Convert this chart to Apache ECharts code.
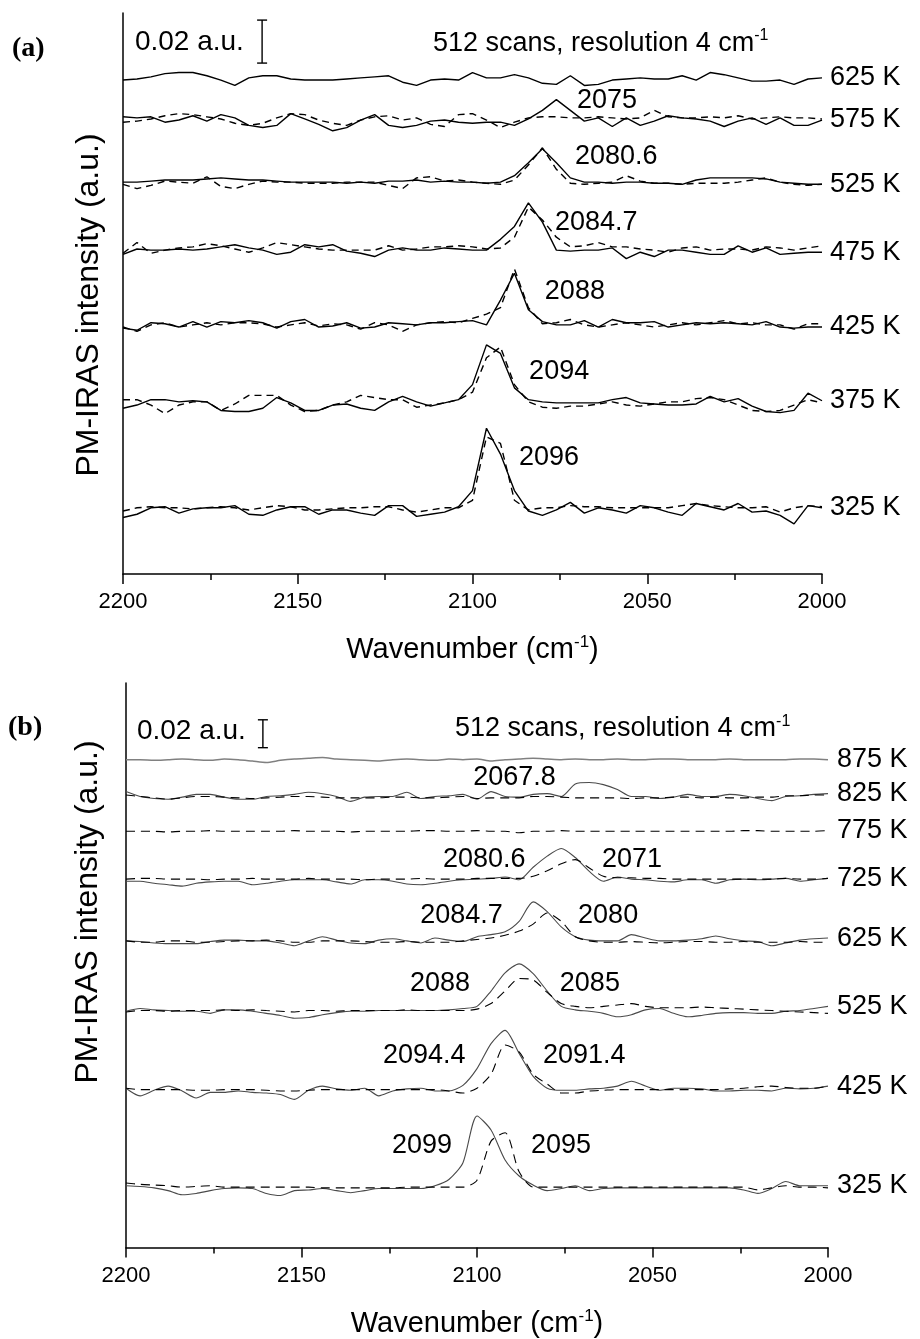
<!DOCTYPE html>
<html><head><meta charset="utf-8">
<script src="https://cdn.jsdelivr.net/npm/echarts/dist/echarts.min.js"></script>
<style>html,body{margin:0;padding:0;background:#fff}#c{width:920px;height:1339px}</style>
</head><body><div id="c"></div>
<script>
// ---------- shared x values (wavenumber, cm-1) ----------
const wavenumbers = [2200,2196,2192,2188,2184,2180,2176,2172,2168,2164,2160,2156,2152,2148,2144,2140,2136,2132,2128,2124,2120,2116,2112,2108,2104,2100,2096,2092,2088,2084,2080,2076,2072,2068,2064,2060,2056,2052,2048,2044,2040,2036,2032,2028,2024,2020,2016,2012,2008,2004,2000];
const xTicks = [2200,2150,2100,2050,2000];

// ---------- panel (a): intensities (0.001 a.u.) relative to each baseline ----------
const tempsA   = ['625 K','575 K','525 K','475 K','425 K','375 K','325 K'];
const offsetsA = [229.8, 211.2, 182.3, 150.7, 114.9, 78.6, 28.8];
const a625s = [0,0.5,1.5,3,3.5,3.5,2,0,-2.5,1, 2,2,0.5,0,0,0,0.5,1,1.5,2, -1,-2.5,0,0.5,0,3.5,1,1,2.5,1, -1.5,-2,2,-2.5,-2,0,0.5,1,0.5,0.5, 2,0,3.5,2.5,1,-0.5,-0.5,0,-2,0.5, 1];
const a575s = [1.5,1,1.5,-1,0,2,-0.5,2.5,1,-2.5, -3.5,-2.5,3,0.5,-2,-5,-3.5,0,2.5,-2.5, -3.5,-2.5,-0.5,0,-1,-1.5,-1,-1,-2.5,0.5, 4.5,9.5,4.5,-0.5,1,-3,1,-2.5,-0.5,2, 1,0.5,-0.5,-3,-0.5,1,-2,1,-2.5,-2.5, 0];
const a575d = [-1,-0.5,0.5,2,3,2.5,1.5,0.5,-1.5,-2.5, -1.5,1,3,2.5,0,-1.5,-2.5,0,1.5,2, 0,1,-2,-3,2.5,3,0,-3.5,-1,1, 1.5,1.5,1,1,1.5,1,0.5,1,4.5,1.5, 1,1,1.5,1,2,0.5,1,1.5,1,1, 0.5];
const a525s = [0,0,0.5,1,1,1,1.5,2,1.5,1, 1,0.5,0,0,0,0,-0.5,0,-0.5,0.5, 0.5,1,0,0.5,0,0,-0.5,0,3,9, 15.5,9,2,0,0,-0.5,0,0,-0.5,-0.5, -1,1,2,2,2,2,1.5,0,-0.5,-1, -1];
const a525d = [-1,-3,-1.5,0.5,0,-0.5,2.5,-2,-3,-1, 0.5,0,0,-0.5,-0.5,-0.5,0,0,0,-1.5, -3,2,2.5,0.5,1,0,-0.5,-1,1,8, 16,6,-0.5,-1,-0.5,0,3,0.5,-0.5,-0.5, -1,-0.5,-0.5,-0.5,0,1,2,0,-1,-1.5, -1];
const a475s = [-2,0.5,0,0,0.5,0,0.5,1.5,2.5,1, 0,-2,-1,2.5,1.5,2.5,-0.5,-1.5,-3,0, 1,0,0,1,0.5,0,0,5,11,22, 13,0,-0.5,0,0,1,-4,-1,-3,0, 0,-1,-2,-2,2,-1,1,-2,-1.5,-1, -1];
const a475d = [-1.5,3.5,-1.5,0,1,1.5,3,2,0.5,-1, 1,3.5,2.5,1.5,0.5,0,0,0,0,2, 0,0.5,1.5,1.5,2,1.5,0.5,1,6,20, 14,6,1.5,2,3.5,1.5,1.5,0.5,0,-1, 1,1.5,0,0.5,0.5,0,1.5,1,0,1, 2];
const a425s = [-0.5,-1.5,2,1.5,0,2.5,0,2.5,2,3, 2,-0.5,2.5,3.5,0,0.5,2,-0.5,0,2, 1.5,1,2,2,2.5,3,1,12.5,25,8, 2.5,1,1,3,0,3.5,2,2,2.5,0, 1,2,1.5,2,1.5,1,2.5,0,-0.5,0, 0];
const a425d = [0,-2,1,2,0,1,2,1,2,2, 1.5,0,1,2,0.5,1.5,1,-1,2,1, -2,1,2,2.5,2,4,6,9,27,9, 1.5,2,3.5,1,0,1,2,1,0,1, 2,1,2,3,1.5,2,1,1,-1,1.5, 1.5];
const a375s = [-1.5,0,2.5,2.5,1.5,2,1.5,-2.5,-3,-3, -1.5,3.5,1,-2.5,-2.5,0,0.5,-1.5,-2.5,1.5, 4,1.5,-0.5,1,2.5,9.5,28,24,8,2.5, 1.5,1,1,1,1,2.5,3.5,1,0.5,0, 0,0.5,4,1.5,3,-0.5,-3,-3.5,-2.5,5.5, 2];
const a375d = [2.5,2.5,0,-4,0,1.5,1.5,-2.5,0.5,4.5, 4.5,4.5,0,-3,-2.5,0,1.5,4.5,3.5,2.5, 2.5,-1,0,1,2.5,6,22,27,9.5,1.5, -1,-1.5,-0.5,-0.5,0.5,1.5,0,-0.5,0.5,1.5, 1.5,3,3.5,2.5,0,-2.5,-3,-2.5,0,2.5, 1];
const a325s = [-2.5,-1,2,2.5,-0.5,1.5,2,2,3,-1, -1.5,1,2.5,2.5,-1,1,1,-0.5,-1.5,3, 3,-2,-1,0,2.5,10,39,27,10,0.5, -1.5,1,4.5,-0.5,2,1,-0.5,3,2,0, -1.5,4,2.5,1,4,0,0.5,-1.5,-5.5,3, 2];
const a325d = [0.5,2,2.5,2,2,1.5,2,2.5,2,1, 2,3,2.5,1,1,1.5,2,2,2.5,2.5, 1,0,1,2,2,5.5,35,32,5.5,1, 2,2,3,2.5,2.5,2,2,2,2,2, 3,4,3,2.5,2,2,2.5,0,2,3, 2.5];

// ---------- panel (b) ----------
const tempsB   = ['875 K','825 K','775 K','725 K','625 K','525 K','425 K','325 K'];
const offsetsB = [350, 323.6, 298.6, 264.3, 220, 170, 114.3, 44.3];
const b875s = [0,0,-0.5,0,0.5,0,-0.5,0.5,0,-1, -2,-0.5,0.5,1,1.5,0.5,0,-0.5,-1,0, 0.5,0,-0.5,0.5,0,0.5,-1,0,0.5,1, 0.5,0,0.5,0,0,0.5,0,0,0.5,0.5, 0,0,0,0.5,0,0,0,0,0.5,0.5, 0];
const b825s = [3.5,0,-1.5,-2,-0.5,1.5,1.5,-0.5,-2,-2, 0,0.5,1.5,3,2,0,-3.5,-0.5,0,0, 3,-1.5,0,0.5,1.5,-2,3.5,0,-0.5,1.5, 2,0,9,10,8.5,5,0,0,-1.5,-0.5, 1.5,0,0,1.5,0.5,-1.5,-3,0,0.5,1.5, 2];
const b825d = [1,0,-1,-2,-1,0,0,-0.5,-1,-1.5, -1,-0.5,0,0,-0.5,-1,-1,-1,-1,-0.5, -0.5,-1,-1,-0.5,0,-1.5,-1,-1,-1,0, 0,-0.5,-1,-1,-1,-1,-1.5,-1,-1,-0.5, -0.5,-1,-0.5,-1,-1,-0.5,-0.5,0.5,0.5,1, 1];
const b775d = [0,0,0,-0.5,0,0,0.5,0,0,0, 0,0,0.5,0,0,0,-0.5,0,0,0, 0,0.5,0.5,0,0,0.5,0,0,-1,0, 0,0.5,0,0,0,0,0,0,0,0, 0,0,0,0,0.5,0.5,0,0,0,0, 0.5];
const b725s = [-1.5,-1.5,-3,-4,-5,-3,-2,-1.5,-1.5,-4, -3,-1.5,-0.5,-0.5,-0.5,-2,-3.5,-0.5,-0.5,-1.5, -3.5,-4,-3,-1.5,-0.5,0,0.5,1.5,-0.5,8.5, 16.5,22,15.5,5.5,-1.5,1.5,0,-0.5,-1.5,-2, -0.5,-0.5,-3,-0.5,0,-0.5,0,0.5,-1.5,-0.5, 0.5];
const b725d = [0,0.5,0.5,0,0,0,-0.5,0,0,0.5, 0,0,0,0.5,0,0,0,-0.5,0,0, 0,0.5,0,0,0,0.5,0.5,0.5,0.5,2, 6,11,14,8,2,1,1,0.5,0.5,0, 0,0,0,0,0,0,0,0.5,0,0, 0.5];
const b625s = [0,-0.5,-1.5,-2,-2,-2,-0.5,0.5,0.5,0, 0,-1.5,-3.5,0,3,0.5,-1.5,-2,0.5,1.5, 0,-1.5,2,0.5,-0.5,3,4.5,6.5,14,28, 21,10,3,0.5,0,0,4.5,2,0,0, 0.5,1.5,3.5,1.5,0,-0.5,-3.5,-1.5,0.5,1.5, 2];
const b625d = [0,-1,-1,0,0,-1,-1,-0.5,0,0, 0.5,0,-1,-1,0,0,0,-0.5,-1,-1, -0.5,-1,-1,-1,0,1,2,4,7,12, 20,14,3,0,-1,-1,-0.5,-1,-1.5,-1, -0.5,-0.5,-1,-1,-0.5,-1,-1,-1,-0.5,-1, -1];
const b525s = [-0.5,1.5,0.5,0,-0.5,-0.5,-2,0.5,0.5,-0.5, -2,-3.5,-5.5,-5,-3,-1.5,-0.5,-0.5,0,0, 0,0,0,0.5,1.5,3,14,27,33.5,26.5, 14,3,0.5,-0.5,-2,-4.5,-3,0.5,1.5,-2, -4.5,-3.5,-2,-1.5,-1.5,-2,-2,-0.5,0,1.5, 3];
const b525d = [-1,0,0,-0.5,0,0,0,0.5,0,0.5, 0,-0.5,-1,0,0,-0.5,0,0,0,0, 0.5,0,0,0,0,1,5,14,23,22, 13,5,3,2,3,4,5,3,2,2, 2,2.5,2,1.5,1,0.5,0,-0.5,-1,-1.5, -2];
const b425s = [0,-5.5,-1.5,1.5,-2,-7,-3,-3,-2,-3, -3.5,-4.5,-8,-1.5,1.5,-0.5,-1.5,0,-5.5,-2, -0.5,0,-2,-2,2,14,32,41.5,25,8.5, 0,-1.5,-1.5,-0.5,0,1.5,5,1.5,-1.5,0, 0,-0.5,-2,-2,-1.5,-1.5,-2,0,-0.5,0, 1.5];
const b425d = [0,-1,-1,-1,-1,-1.5,-1.5,-1,-1,-1, -1.5,-2,-2,-1.5,-1,-1,-1,-1,-1,-1, -1,-1,-1,-2,-3.5,0,10,31,26,10, 3,-3.5,-3.5,-2,-1.5,-1,-1,-1,-1,-1, -1,-1,-1,-0.5,0,1,1.5,0.5,0,0, 1.5];
const b325s = [0,-0.5,-1.5,-3.5,-6.5,-5.5,-3.5,-2,-1.5,-2, -5.5,-7,-3.5,-3,-2,-3.5,-5,-3.5,-2,-2, -2,-2,0,4.5,16.5,50,40,18.5,7,0.5, -3.5,-2,0,-3.5,-2,-1.5,-1.5,-1.5,-1.5,-1.5, -1.5,-1.5,-1.5,-1.5,-3,-5.5,-2,3,0,0, 0];
const b325d = [2,1,0.5,0,-1,-0.5,0,-1,-1,-1, -1,-1,-1,-1,-1.5,-1.5,-1.5,-1.5,-1.5,-1.5, -1,-1,-1,-1,-1,4,32,38,10,-1, -1,-1,-1,-1,-1,-1,-1,-1,-1,-1, -1,-1,-1,-1,-1,-3,-1.5,0,-1,-1, -1.5];

// ---------- annotations ----------
const peakTextA = ['2075','2080.6','2084.7','2088','2094','2096'];
const peakPosA  = [[2070.1,220.5],[2070.7,194],[2076.4,163.3],[2079.3,131.2],[2083.8,94],[2086.7,54.4]];
const peakTextB = ['2067.8','2080.6','2071','2084.7','2080','2088','2085','2094.4','2091.4','2099','2095'];
const peakPosB  = [[2101.1,337],[2109.7,278.6],[2064.4,278.6],[2116.2,237.9],[2071.2,237.9],[2119.1,189.3],[2076.4,189.3],[2126.8,137.9],[2081.2,137.9],[2124.2,72.9],[2084.6,72.9]];
const scaleText = '0.02 a.u.';
const scanText = '512 scans, resolution 4 cm';
const scalePosA = [2196.6, 247.2], scanPosA = [2111.3, 247];
const scalePosB = [2196.9, 370.7], scanPosB = [2106.3, 372.1];
const scaleBarA = [2160.2, 237.7, 257.7];   // x, from, to (0.02 a.u. = 20 units)
const scaleBarB = [2161.0, 358.6, 378.6];

const FONT = '"Liberation Sans", Arial, Helvetica, sans-serif';

// series descriptors: [panel, data, temp index, dashed, labelled]
const specs = [
  [0,a625s,0,false,true],
  [0,a575s,1,false,true],[0,a575d,1,true,false],
  [0,a525s,2,false,true],[0,a525d,2,true,false],
  [0,a475s,3,false,true],[0,a475d,3,true,false],
  [0,a425s,4,false,true],[0,a425d,4,true,false],
  [0,a375s,5,false,true],[0,a375d,5,true,false],
  [0,a325s,6,false,true],[0,a325d,6,true,false],
  [1,b875s,0,false,true],
  [1,b825s,1,false,true],[1,b825d,1,true,false],
  [1,b775d,2,true,true],
  [1,b725s,3,false,true],[1,b725d,3,true,false],
  [1,b625s,4,false,true],[1,b625d,4,true,false],
  [1,b525s,5,false,true],[1,b525d,5,true,false],
  [1,b425s,6,false,true],[1,b425d,6,true,false],
  [1,b325s,7,false,true],[1,b325d,7,true,false]
];

const endLabels = [[], []];   // [x, y, text] built from the series' last points
const series = specs.map(([p, rel, ti, dashed, lab]) => {
  const off = p === 0 ? offsetsA[ti] : offsetsB[ti];
  const name = p === 0 ? tempsA[ti] : tempsB[ti];
  const data = wavenumbers.map((w, i) => [w, off + rel[i]]);
  if (lab) endLabels[p].push([data[data.length - 1][0], data[data.length - 1][1], name]);
  let color = '#000', width = p === 0 ? 1.4 : 1.1;
  if (p === 1 && !dashed) color = (ti === 0) ? '#808080' : '#4a4a4a';
  if (p === 1 && ti === 0) width = 1.5;
  return {
    type: 'line', name, xAxisIndex: p, yAxisIndex: p, data,
    symbol: 'none', smooth: p === 1 ? 0.25 : false, silent: true,
    lineStyle: { color, width, type: dashed ? (p === 0 ? [7,5] : [9,6]) : 'solid' }
  };
});

// text annotations drawn at data coordinates through the axes
function textSeries(p, items) {
  return {
    type: 'custom', xAxisIndex: p, yAxisIndex: p, silent: true, clip: false,
    data: items.map((it, i) => [it[0], it[1], i]),
    encode: { x: 0, y: 1 },
    renderItem: (params, api) => {
      const it = items[params.dataIndex];
      const pt = api.coord([api.value(0), api.value(1)]);
      return { type: 'text', x: pt[0] + (it[4] || 0), y: pt[1],
        style: { text: it[2], fill: '#000', fontSize: it[3] || 27, fontFamily: FONT,
          align: 'left', verticalAlign: 'middle',
          rich: { n: { fontSize: 27, fontFamily: FONT, fill: '#000', lineHeight: 30 },
                  s: { fontSize: 16, fontFamily: FONT, fill: '#000', verticalAlign: 'top', lineHeight: 16 } } } };
    }
  };
}
function bar(p, d) {
  return {
    type: 'custom', xAxisIndex: p, yAxisIndex: p, silent: true, data: [d],
    encode: { x: 0, y: [1, 2] },
    renderItem: (params, api) => {
      const a = api.coord([api.value(0), api.value(1)]);
      const b = api.coord([api.value(0), api.value(2)]);
      const st = { stroke: '#000', lineWidth: 1.4 };
      return { type: 'group', children: [
        { type: 'line', shape: { x1: a[0], y1: a[1], x2: b[0], y2: b[1] }, style: st },
        { type: 'line', shape: { x1: a[0]-5, y1: a[1], x2: a[0]+5, y2: a[1] }, style: st },
        { type: 'line', shape: { x1: b[0]-5, y1: b[1], x2: b[0]+5, y2: b[1] }, style: st }
      ]};
    }
  };
}
function annotItems(p, texts, pos, sPos, nPos) {
  const items = texts.map((t, i) => [pos[i][0], pos[i][1], t, 27, 0]);
  items.push([sPos[0], sPos[1], scaleText, 28, 0]);
  items.push([nPos[0], nPos[1], '{n|' + scanText + '}{s|-1}', 27, 0]);
  endLabels[p].forEach(e => items.push([e[0], e[1], e[2], 27, p === 0 ? 8 : 9]));
  return items;
}
series.push(textSeries(0, annotItems(0, peakTextA, peakPosA, scalePosA, scanPosA)));
series.push(textSeries(1, annotItems(1, peakTextB, peakPosB, scalePosB, scanPosB)));
series.push(bar(0, scaleBarA));
series.push(bar(1, scaleBarB));

const xAx = i => ({
  type: 'value', gridIndex: i, min: 2000, max: 2200, interval: 50, inverse: true,
  axisLine: { show: true, onZero: false, lineStyle: { color: '#000', width: 1.5 } },
  axisTick: { show: true, inside: false, length: 10, lineStyle: { color: '#000', width: 1.5 } },
  minorTick: { show: true, splitNumber: 2, length: 6, lineStyle: { color: '#000', width: 1.5 } },
  axisLabel: { fontSize: 22, color: '#000', margin: 17, fontFamily: FONT,
    formatter: v => xTicks.includes(v) ? String(v) : '' },
  splitLine: { show: false }, minorSplitLine: { show: false },
  name: '{t|Wavenumber (cm}{s|-1}{t|)}', nameLocation: 'middle', nameGap: 60,
  nameTextStyle: { rich: {
    t: { fontSize: 29, fontFamily: FONT, color: '#000', lineHeight: 32 },
    s: { fontSize: 17, fontFamily: FONT, color: '#000', verticalAlign: 'top', lineHeight: 18 } } }
});
const yAx = (i, max) => ({
  type: 'value', gridIndex: i, min: 0, max,
  axisLine: { show: true, onZero: false, lineStyle: { color: '#000', width: 1.5 } },
  axisTick: { show: false }, axisLabel: { show: false }, splitLine: { show: false }
});

const chart = echarts.init(document.getElementById('c'), null, { renderer: 'canvas' });
chart.setOption({
  animation: false,
  backgroundColor: '#fff',
  grid: [
    { left: 123, top: 13, width: 699, height: 561 },
    { left: 126, top: 683, width: 702, height: 567 }
  ],
  xAxis: [xAx(0), xAx(1)],
  yAxis: [yAx(0, 261), yAx(1, 405)],
  series,
  graphic: [
    { type: 'text', left: 12, top: 35, style: { text: '(a)', font: 'bold 28px "Liberation Serif", "Times New Roman", serif', fill: '#000' } },
    { type: 'text', left: 8, top: 714, style: { text: '(b)', font: 'bold 28px "Liberation Serif", "Times New Roman", serif', fill: '#000' } },
    { type: 'text', x: 89, y: 305, rotation: Math.PI / 2,
      style: { text: 'PM-IRAS intensity (a.u.)', fontSize: 32, fontFamily: FONT, fill: '#000', align: 'center', verticalAlign: 'middle' } },
    { type: 'text', x: 88, y: 912, rotation: Math.PI / 2,
      style: { text: 'PM-IRAS intensity (a.u.)', fontSize: 32, fontFamily: FONT, fill: '#000', align: 'center', verticalAlign: 'middle' } }
  ]
});
</script></body></html>
